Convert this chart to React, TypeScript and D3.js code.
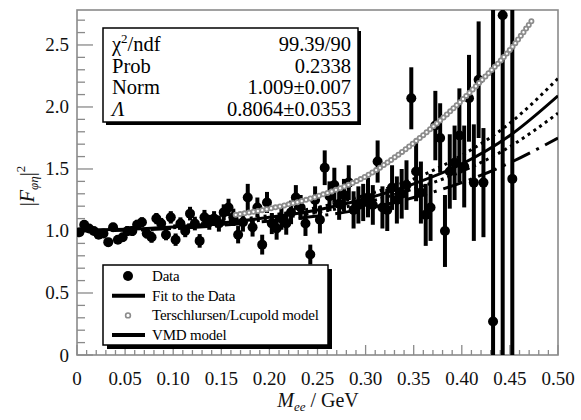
import React from "react";
import * as d3 from "d3";

// ---- data ----
const dataX: number[] = [
  0.0025, 0.0075, 0.0125, 0.0175, 0.0225, 0.0275, 0.0325, 0.0375, 0.0425, 0.0475,
  0.0525, 0.0575, 0.0625, 0.0675, 0.0725, 0.0775, 0.0825, 0.0875, 0.0925, 0.0975,
  0.1025, 0.1075, 0.1125, 0.1175, 0.1225, 0.1275, 0.1325, 0.1375, 0.1425, 0.1475,
  0.1525, 0.1575, 0.1625, 0.1675, 0.1725, 0.1775, 0.1825, 0.1875, 0.1925, 0.1975,
  0.2025, 0.2075, 0.2125, 0.2175, 0.2225, 0.2275, 0.2325, 0.2375, 0.2425, 0.2475,
  0.2525, 0.2575, 0.2625, 0.2675, 0.2725, 0.2775, 0.2825, 0.2875, 0.2925, 0.2975,
  0.3025, 0.3075, 0.3125, 0.3175, 0.3225, 0.3275, 0.3325, 0.3375, 0.3425, 0.3475,
  0.3525, 0.3575, 0.3625, 0.3675, 0.3725, 0.3775, 0.3825, 0.3875, 0.3925, 0.3975,
  0.4025, 0.4075, 0.4125, 0.4175, 0.4225, 0.4325, 0.4425, 0.4525,
];
const dataY: number[] = [
  0.99, 1.05, 1.02, 1.0, 0.97, 0.98, 0.91, 1.03, 0.93, 0.95,
  1.0, 1.0, 1.05, 1.07, 0.98, 0.95, 1.1, 1.06, 0.97, 1.11,
  0.93, 1.06, 1.0, 1.14, 1.06, 0.92, 1.11, 1.07, 1.1, 1.06,
  1.15, 1.19, 1.11, 0.97, 1.07, 1.27, 1.03, 1.19, 0.89, 1.23,
  1.06, 1.02, 1.1, 1.06, 1.15, 1.27, 1.19, 1.06, 0.81, 1.25,
  1.09, 1.51, 1.28, 1.37, 1.22, 1.29, 1.39, 1.17, 1.21, 1.23,
  1.27, 1.21, 1.56, 1.19, 1.17, 1.35, 1.25, 1.3, 1.37, 2.07,
  1.48, 1.31, 1.13, 1.19, 1.85, 1.75, 1.0, 1.48, 1.55, 1.77,
  1.52, 2.07, 1.39, 2.22, 1.39, 0.27, 2.74, 1.42,
];
const dataErr: number[] = [
  0.03, 0.03, 0.03, 0.03, 0.03, 0.03, 0.035, 0.035, 0.035, 0.035,
  0.04, 0.04, 0.04, 0.04, 0.04, 0.045, 0.045, 0.045, 0.045, 0.05,
  0.05, 0.05, 0.05, 0.055, 0.055, 0.055, 0.06, 0.06, 0.06, 0.065,
  0.065, 0.07, 0.07, 0.07, 0.075, 0.11, 0.075, 0.08, 0.08, 0.085,
  0.085, 0.09, 0.09, 0.09, 0.095, 0.1, 0.1, 0.1, 0.08, 0.11,
  0.11, 0.14, 0.12, 0.14, 0.13, 0.13, 0.14, 0.15, 0.15, 0.15,
  0.16, 0.16, 0.17, 0.17, 0.17, 0.18, 0.19, 0.2, 0.2, 0.25,
  0.24, 0.25, 0.25, 0.27, 0.28, 0.28, 0.29, 0.3, 0.3, 0.38,
  0.33, 0.35, 0.47, 0.47, 0.44, 3, 3, 3,
];

const fitX: number[] = [0, 0.05, 0.1, 0.15, 0.2, 0.25, 0.3, 0.35, 0.4, 0.45, 0.5];
const fitY: number[] = [1.009, 1.014, 1.033, 1.064, 1.11, 1.17, 1.26, 1.38, 1.54, 1.77, 2.09];

const bandX: number[] = [0.1, 0.15, 0.2, 0.25, 0.3, 0.35, 0.4, 0.45, 0.5];
const bandUpper: number[] = [1.04, 1.075, 1.125, 1.19, 1.29, 1.42, 1.61, 1.87, 2.23];
const bandLower: number[] = [1.026, 1.053, 1.095, 1.15, 1.23, 1.34, 1.48, 1.68, 1.95];

const tlX: number[] = [0.165, 0.2, 0.25, 0.3, 0.34, 0.37, 0.39, 0.42, 0.45, 0.475];
const tlY: number[] = [1.13, 1.18, 1.28, 1.44, 1.65, 1.84, 1.98, 2.21, 2.46, 2.72];

const vmdX: number[] = [0, 0.05, 0.1, 0.15, 0.2, 0.25, 0.3, 0.35, 0.4, 0.45, 0.5];
const vmdY: number[] = [1.0, 1.005, 1.02, 1.045, 1.08, 1.12, 1.18, 1.27, 1.39, 1.55, 1.75];

const xTickLabels: string[] = ["0", "0.05", "0.10", "0.15", "0.20", "0.25", "0.30", "0.35", "0.40", "0.45", "0.50"];
const yTickLabels: string[] = ["0", "0.5", "1.0", "1.5", "2.0", "2.5"];

const statNames: string[] = ["χ2/ndf", "Prob", "Norm", "Λ"];
const statValues: string[] = ["99.39/90", "0.2338", "1.009±0.007", "0.8064±0.0353"];
const legendLabels: string[] = ["Data", "Fit to the Data", "Terschlursen/Lcupold model", "VMD model"];

const FONT = "'Liberation Serif', 'DejaVu Serif', serif";

export default function App() {
  const L = 77, R = 558, T = 10, B = 355;
  const x = d3.scaleLinear().domain([0, 0.5]).range([L, R]);
  const y = d3.scaleLinear().domain([0, 2.782]).range([B, T]);

  const line = d3
    .line<[number, number]>()
    .x((d) => x(d[0]))
    .y((d) => y(d[1]))
    .curve(d3.curveMonotoneX);

  const fitPath = line(fitX.map((v, i) => [v, fitY[i]]))!;
  const upPath = line(bandX.map((v, i) => [v, bandUpper[i]]))!;
  const loPath = line(bandX.map((v, i) => [v, bandLower[i]]))!;
  const tlPath = line(tlX.map((v, i) => [v, tlY[i]]))!;
  const vmdPath = line(vmdX.map((v, i) => [v, vmdY[i]]))!;

  const xMinor = d3.range(0, 51).map((i) => i / 100);
  const yMinor = d3.range(0, 28).map((i) => i / 10);
  const xMajor = xTickLabels.map((_, i) => i * 0.05);
  const yMajor = yTickLabels.map((_, i) => i * 0.5);

  const axisColor = "#8a8a8a";

  return (
    <svg width={581} height={420} style={{ display: "block", position: "absolute", left: 0, top: 0 }} fontFamily={FONT}>
      <rect x={0} y={0} width={581} height={420} fill="#fff" />
      <defs>
        <clipPath id="plotClip">
          <rect x={L} y={T} width={R - L} height={B - T} />
        </clipPath>
      </defs>

      {/* ticks */}
      {xMinor.map((v, i) => {
        const major = Math.abs(v * 20 - Math.round(v * 20)) < 1e-6;
        return (
          <line key={"xm" + i} x1={x(v)} x2={x(v)} y1={B} y2={B - (major ? 10 : 5)} stroke={axisColor} strokeWidth={1.3} />
        );
      })}
      {yMinor.map((v, i) => {
        const major = Math.abs(v * 2 - Math.round(v * 2)) < 1e-6;
        return (
          <line key={"ym" + i} x1={L} x2={L + (major ? 16 : 8)} y1={y(v)} y2={y(v)} stroke={axisColor} strokeWidth={1.3} />
        );
      })}

      {/* frame */}
      <rect x={L} y={T} width={R - L} height={B - T} fill="none" stroke={axisColor} strokeWidth={1.6} />

      {/* tick labels */}
      {xMajor.map((v, i) => (
        <text key={"xl" + i} x={x(v)} y={385} textAnchor="middle" fontSize={19} fill="#111">
          {xTickLabels[i]}
        </text>
      ))}
      {yMajor.map((v, i) => (
        <text key={"yl" + i} x={69} y={y(v) + 6.5} textAnchor="end" fontSize={19} fill="#111">
          {yTickLabels[i]}
        </text>
      ))}

      {/* axis titles */}
      <text x={318} y={407} textAnchor="middle" fontSize={20} fill="#111">
        <tspan fontStyle="italic">M</tspan>
        <tspan fontStyle="italic" fontSize={13} dy={4}>ee</tspan>
        <tspan dy={-4}> / GeV</tspan>
      </text>
      <text transform="translate(34,186) rotate(-90)" textAnchor="middle" fontSize={20} fill="#111">
        <tspan>|</tspan>
        <tspan fontStyle="italic">F</tspan>
        <tspan fontStyle="italic" fontSize={13} dy={4}>φη</tspan>
        <tspan dy={-4}>|</tspan>
        <tspan fontSize={13} dy={-9}>2</tspan>
      </text>

      <g clipPath="url(#plotClip)">
        {/* data error bars */}
        {dataX.map((v, i) => (
          <line
            key={"e" + i}
            x1={x(v)}
            x2={x(v)}
            y1={y(dataY[i] - dataErr[i])}
            y2={y(dataY[i] + dataErr[i])}
            stroke="#000"
            strokeWidth={4}
          />
        ))}
        {dataX.map((v, i) => (
          <circle key={"p" + i} cx={x(v)} cy={y(dataY[i])} r={5} fill="#000" />
        ))}

        {/* Terschlusen/Leupold model: chain of open circles */}
        <path d={tlPath} fill="none" stroke="#8c8c8c" strokeWidth={6} strokeDasharray="0,4.5" strokeLinecap="round" />
        <path d={tlPath} fill="none" stroke="#fff" strokeWidth={2.4} strokeDasharray="0,4.5" strokeLinecap="round" />

        {/* fit and its band */}
        <path d={fitPath} fill="none" stroke="#000" strokeWidth={3} />
        <path d={upPath} fill="none" stroke="#000" strokeWidth={3} strokeDasharray="3,4" />
        <path d={loPath} fill="none" stroke="#000" strokeWidth={3} strokeDasharray="3,4" />

        {/* VMD model */}
        <path d={vmdPath} fill="none" stroke="#000" strokeWidth={3} strokeDasharray="20,7,3,7" />
      </g>

      {/* statistics box */}
      <rect x={106} y={31} width={255} height={94} fill="#000" />
      <rect x={103} y={28} width={255} height={94} fill="#fff" stroke="#000" strokeWidth={1.5} />
      {statNames.map((n, i) => (
        <text key={"sn" + i} x={112} y={51 + i * 21.7} fontSize={20.5} fill="#000" fontStyle={i === 3 ? "italic" : "normal"}>
          {i === 0 ? (
            <>
              <tspan>χ</tspan>
              <tspan fontSize={13} dy={-8}>2</tspan>
              <tspan dy={8}>/ndf</tspan>
            </>
          ) : (
            n
          )}
        </text>
      ))}
      {statValues.map((v, i) => (
        <text key={"sv" + i} x={351} y={51 + i * 21.7} textAnchor="end" fontSize={20.5} fill="#000">
          {v}
        </text>
      ))}

      {/* legend */}
      <rect x={107} y={269} width={225} height={80} fill="#000" />
      <rect x={103} y={265} width={225} height={80} fill="#fff" stroke="#000" strokeWidth={1.5} />
      {legendLabels.map((lab, i) => {
        const cy = 276 + i * 19.7;
        return (
          <g key={"lg" + i}>
            {i === 0 && <circle cx={128} cy={cy} r={5} fill="#000" />}
            {i === 1 && <line x1={112} x2={145} y1={cy} y2={cy} stroke="#000" strokeWidth={4} />}
            {i === 2 && <circle cx={128} cy={cy} r={2.4} fill="#fff" stroke="#8c8c8c" strokeWidth={1.6} />}
            {i === 3 && <line x1={112} x2={145} y1={cy} y2={cy} stroke="#000" strokeWidth={4} />}
            <text x={152} y={cy + 5} fontSize={15} fill="#000" letterSpacing={-0.2}>
              {lab}
            </text>
          </g>
        );
      })}
    </svg>
  );
}
